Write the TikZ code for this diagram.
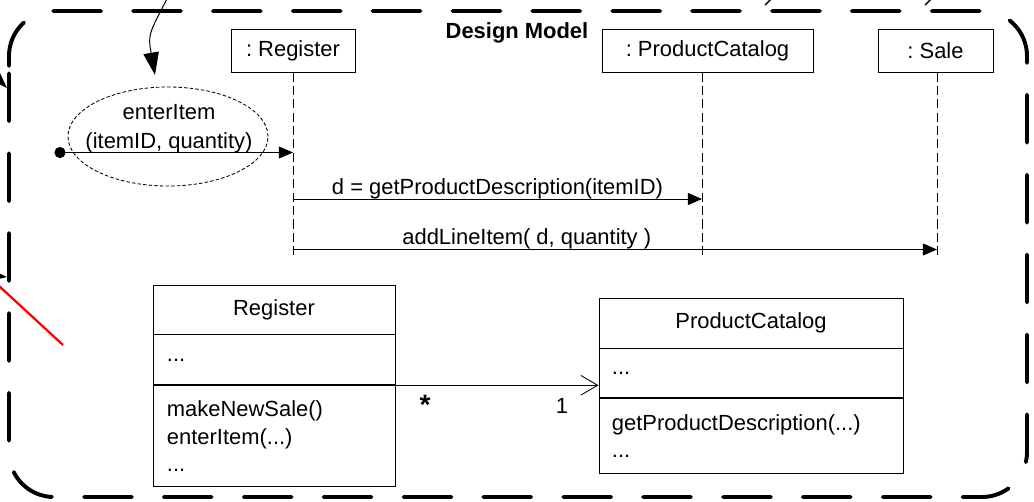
\documentclass[tikz,border=0pt]{standalone}
\usepackage{fontspec}
\setmainfont{Liberation Sans}
\usetikzlibrary{arrows.meta,positioning,shapes.geometric}
\frenchspacing

\tikzset{
  objbox/.style={draw,line width=0.6pt,minimum height=1.075cm,inner sep=0pt},
  lifeline/.style={line width=0.6pt,dash pattern=on 6.5pt off 3pt},
  msg/.style={line width=0.6pt,-{Triangle[length=10pt,width=8.5pt]}},
  part/.style={draw,line width=0.6pt,inner ysep=0pt},
  listpart/.style={part,align=left,inner xsep=0.35cm},
  assoc/.style={line width=0.6pt,-{Straight Barb[length=12pt,width=14pt]}},
  pointer/.style={line width=0.7pt,-{Triangle[length=16pt,width=11pt]}},
  frame/.style={line width=2.8pt,line cap=round,dash pattern=on 34pt off 22.8pt,rounded corners=1.125cm},
}

\begin{document}
\begin{tikzpicture}[x=0.025cm,y=-0.025cm,font=\fontsize{15.6}{19.5}\selectfont]
	\useasboundingbox (0,0) rectangle (1034,501);
	\clip (0,0) rectangle (1034,501);

	% model border
	\draw[frame] (9,111) -- (9,11) -- (1027,11) -- (1027,497) -- (9,497) -- cycle;
	\node[font=\fontsize{15.6}{19.5}\selectfont\bfseries] (title) at (517,33) {Design Model};

	% interaction
	\node[objbox,minimum width=3.1cm] (regobj) at (293,50.5) {: Register};
	\node[objbox,minimum width=5.275cm] (pcobj) at (707.5,50.5) {: ProductCatalog};
	\node[objbox,minimum width=2.875cm] (saleobj) at (935.5,50.5) {: Sale};
	\coordinate (regend) at (293,258);
	\coordinate (pcend) at (702,258);
	\coordinate (saleend) at (937,258);
	\draw[lifeline] (regobj.south) -- (regend);
	\draw[lifeline] (pcobj.south -| pcend) -- (pcend);
	\draw[lifeline] (saleobj.south -| saleend) -- (saleend);

	\node[draw,ellipse,line width=0.6pt,dash pattern=on 2.5pt off 1.5pt,minimum width=5cm,minimum height=2.475cm] (usecase) at (168,136.5) {};
	\node[align=center] (usetext) at (169,128.5) {enterItem\\[1pt](itemID, quantity)};
	\node[circle,fill,inner sep=0pt,minimum size=0.28cm] (found) at (60,152.5) {};
	\coordinate (enter) at (293,152.5);
	\draw[msg] (found.center) -- (enter);

	\coordinate (getA) at (293,199);
	\coordinate (getB) at (702,199);
	\draw[msg] (getA) -- (getB) node[midway,above=0pt,inner sep=0pt] (getlbl) {d = getProductDescription(itemID)};
	\coordinate (addA) at (293,249.5);
	\coordinate (addB) at (937,249.5);
	\draw[msg] (addA) -- (addB) node[pos=0.363,above=0pt,inner sep=0pt] (addlbl) {addLineItem( d, quantity )};

	% classes
	\node[part,minimum width=6.05cm,minimum height=1.225cm] (regname) at (274,309.5) {Register};
	\node[listpart,text width=5.35cm,minimum height=1.25cm,below=0pt of regname] (regattr) {...};
	\node[listpart,text width=5.35cm,minimum height=2.525cm,below=0pt of regattr] (regops) {makeNewSale()\\enterItem(...)\\...};

	\node[part,minimum width=7.6cm,minimum height=1.25cm] (pcname) at (751,323) {ProductCatalog};
	\node[listpart,text width=6.95cm,inner xsep=0.325cm,minimum height=1.225cm,below=0pt of pcname] (pcattr) {...};
	\node[listpart,text width=6.95cm,inner xsep=0.325cm,minimum height=1.875cm,below=0pt of pcattr] (pcops) {getProductDescription(...)\\...};

	\draw[assoc] (regattr.south east) -- (regattr.south east -| pcattr.west);
	\node[anchor=base,font=\fontsize{20}{20}\selectfont\bfseries] (many) at (425,414) {*};
	\node[anchor=base] (one) at (562,413) {1};

	% pieces of the outer picture
	\coordinate (topin) at (168,-3);
	\coordinate (topend) at (155,75);
	\draw[pointer] (topin) .. controls (148,35) .. (topend);
	\coordinate (leftin) at (-40,40);
	\coordinate (leftend) at (7,88);
	\draw[pointer] (leftin) -- (leftend);
	\coordinate (lowin) at (-40,272);
	\coordinate (lowend) at (7,277);
	\draw[pointer] (lowin) -- (lowend);
	\draw[line width=1pt] (765,5) -- (772,-2);
	\draw[line width=1pt] (925,5) -- (932,-2);
	\draw[red,line width=1.6pt] (-2,285) -- (63,345);
\end{tikzpicture}
\end{document}
